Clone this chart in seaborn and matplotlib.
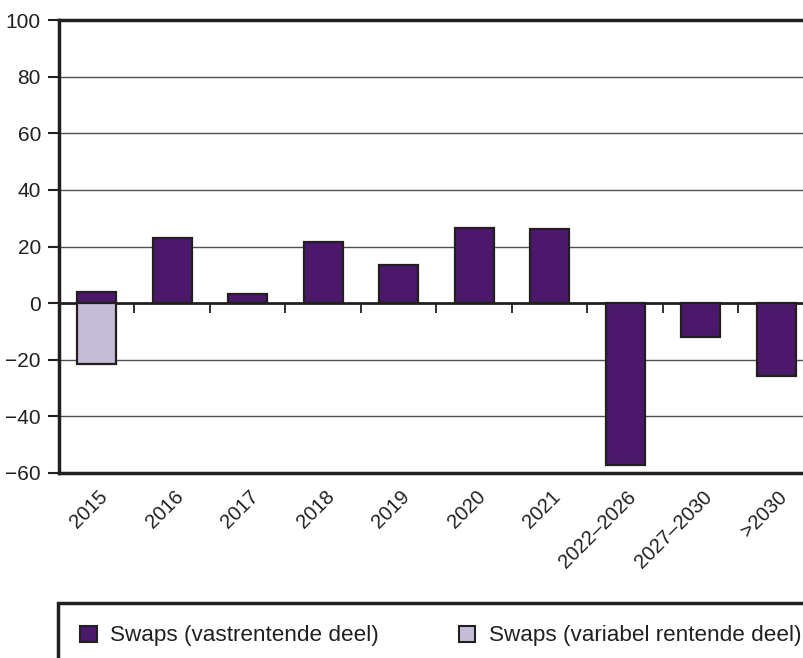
import numpy as np
import pandas as pd
import matplotlib
matplotlib.use("Agg")
import matplotlib.pyplot as plt
import matplotlib.transforms as mtransforms
import seaborn as sns
from matplotlib.patches import Patch

categories = ["2015", "2016", "2017", "2018", "2019", "2020", "2021",
              "2022\u20132026", "2027\u20132030", ">2030"]
vast = [4.1, 22.9, 3.3, 21.6, 13.3, 26.4, 26.1, -57.3, -12.0, -25.6]
variabel = [-21.5, np.nan, np.nan, np.nan, np.nan, np.nan, np.nan, np.nan, np.nan, np.nan]
series_names = ["Swaps (vastrentende deel)", "Swaps (variabel rentende deel)"]
yticks = [-60, -40, -20, 0, 20, 40, 60, 80, 100]

colors = ["#4b186b", "#c5bcd7"]
edge = "#231f20"
txtc = "#231f20"

sns.set_theme(style="white")
plt.rcParams['font.family'] = ['Liberation Sans', 'DejaVu Sans']

df = pd.DataFrame({
    "cat": categories * 2,
    "value": vast + variabel,
    "series": [series_names[0]] * len(categories) + [series_names[1]] * len(categories),
})

fig = plt.figure(figsize=(8.04, 6.58), dpi=100)
ax = fig.add_axes([59/804, 1 - 473/658, 755/804, 453/658])

sns.barplot(data=df, x="cat", y="value", hue="series", hue_order=series_names,
            palette=colors, dodge=False, width=0.52, edgecolor=edge,
            linewidth=1.6, ax=ax, legend=False, zorder=3, saturation=1)

ax.set_ylim(-60, 100)
ax.set_xlim(-0.5, 9.5)
ax.set_yticks(yticks)
ax.set_yticklabels([str(t).replace("-", "\u2212") for t in yticks],
                   fontsize=15, color=txtc)
ax.set_xlabel("")
ax.set_ylabel("")
ax.tick_params(axis="y", direction="out", length=8, width=1.5, color=edge, pad=5, left=True)
ax.set_xticks(range(len(categories)))
ax.set_xticklabels(categories, rotation=45, ha="right", va="center",
                   rotation_mode="anchor", fontsize=14.5, color=txtc)
ax.tick_params(axis="x", length=0, pad=15)
offset = mtransforms.ScaledTranslation(8/100, 0, fig.dpi_scale_trans)
for lbl in ax.get_xticklabels():
    lbl.set_transform(lbl.get_transform() + offset)

for t in yticks:
    if t not in (0, -60, 100):
        ax.axhline(t, color="#505050", lw=1.0, zorder=1)

for s in ["left", "bottom", "top"]:
    ax.spines[s].set_color(edge)
    ax.spines[s].set_linewidth(2.5)
ax.spines["right"].set_visible(False)

sec = ax.secondary_xaxis(60/160)
sec.set_xticks(np.arange(0.5, len(categories), 1.0))
sec.set_xticklabels([])
sec.tick_params(direction="out", length=7, width=1.3, color=edge)
sec.spines["bottom"].set_linewidth(2.0)
sec.spines["bottom"].set_color(edge)

handles = [Patch(facecolor=colors[i], edgecolor=edge, linewidth=1.5, label=series_names[i])
           for i in range(2)]
leg = fig.legend(handles=handles, loc="upper left", ncol=2,
                 bbox_to_anchor=(58/804, 1 - 603/658),
                 frameon=True, fancybox=False, framealpha=1, fontsize=16.2, borderpad=1.0,
                 handlelength=0.72, handleheight=0.7, handletextpad=0.6,
                 columnspacing=3.55, borderaxespad=0)
for t in leg.get_texts():
    t.set_color(txtc)
leg.get_frame().set_edgecolor(edge)
leg.get_frame().set_linewidth(2.5)

fig.savefig("out.png", dpi=100)
